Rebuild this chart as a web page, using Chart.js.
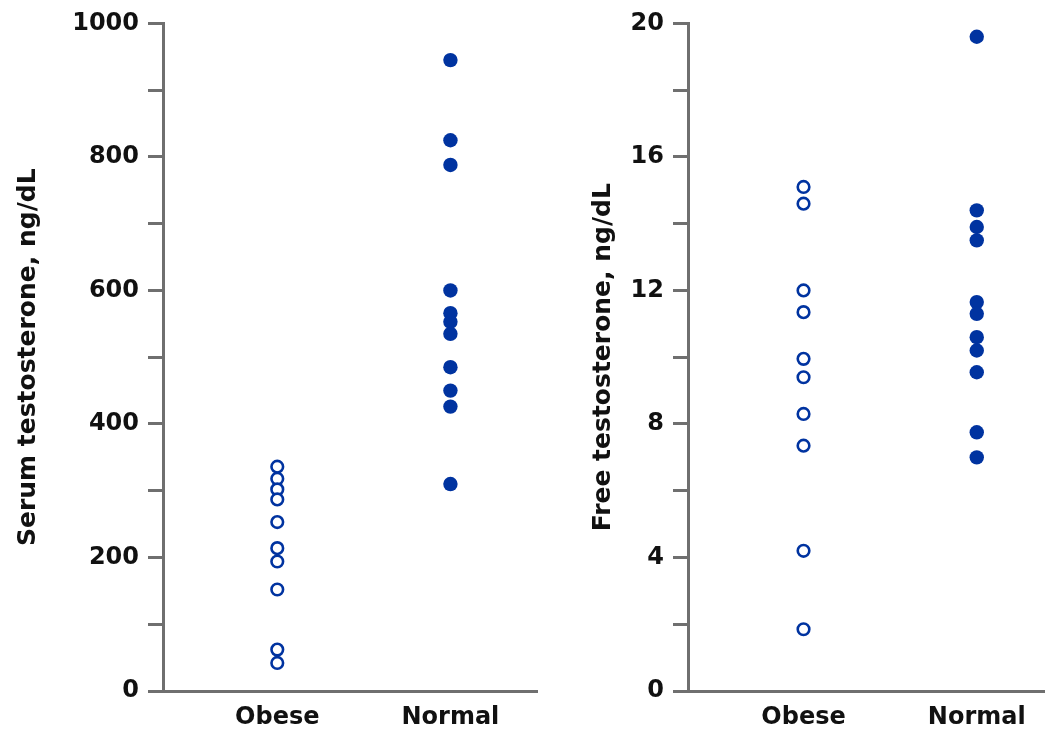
<!DOCTYPE html>
<html>
<head>
<meta charset="utf-8">
<script src="https://cdn.jsdelivr.net/npm/chart.js@4"></script>
<style>
    body { margin: 0; background: #fff; overflow: hidden; }
    #left { position: absolute; left: 0; top: 0; }
    #right { position: absolute; left: 545px; top: 0; }
</style>
</head>
<body>
<canvas id="left" width="545" height="729"></canvas>
<canvas id="right" width="500" height="729"></canvas>
<script>
// groups on the x axis
const categories = ['Obese', 'Normal'];

// serum testosterone, ng/dL
const serumObese = [336, 318, 302, 287, 253, 214, 194, 152, 62, 42];
const serumNormal = [945, 825, 788, 600, 566, 553, 535, 485, 450, 426, 310];
const serumTicks = [0, 200, 400, 600, 800, 1000];

// free testosterone, ng/dL
const freeObese = [15.1, 14.6, 12.0, 11.35, 9.95, 9.4, 8.3, 7.35, 4.2, 1.85];
const freeNormal = [19.6, 14.4, 13.9, 13.5, 11.65, 11.3, 10.6, 10.2, 9.55, 7.75, 7.0];
const freeTicks = [0, 4, 8, 12, 16, 20];

const blue = '#0033a0';
const axisGray = '#6f6f6f';
const fontFamily = '"DejaVu Sans", Verdana, sans-serif';

function points(values, group) {
    return values.map(v => ({ x: categories.indexOf(group) + 1, y: v }));
}

function makeChart(id, obese, normal, labelTicks, step, title, opts) {
    const ctx = document.getElementById(id).getContext('2d');
    return new Chart(ctx, {
        type: 'scatter',
        data: {
            datasets: [
                {
                    label: 'Obese',
                    data: points(obese, 'Obese'),
                    pointRadius: 5.8,
                    pointBorderWidth: 2.6,
                    pointBackgroundColor: '#fff',
                    pointBorderColor: blue
                },
                {
                    label: 'Normal',
                    data: points(normal, 'Normal'),
                    pointRadius: 7.2,
                    pointBorderWidth: 0,
                    pointBackgroundColor: blue,
                    pointBorderColor: blue
                }
            ]
        },
        options: {
            responsive: false,
            animation: false,
            clip: false,
            layout: {
                autoPadding: false,
                padding: { top: 21, right: opts.padRight, bottom: 0, left: 0 }
            },
            plugins: { legend: { display: false }, tooltip: { enabled: false } },
            scales: {
                x: {
                    type: 'linear',
                    min: opts.xMin,
                    max: opts.xMax,
                    afterBuildTicks: s => { s.ticks = categories.map((c, i) => ({ value: i + 1 })); },
                    afterFit: s => {
                        s.height = 38;
                        s.paddingLeft = 0;
                        s.paddingRight = 0;
                    },
                    ticks: {
                        callback: v => categories[v - 1],
                        font: { family: fontFamily, size: 24, weight: 'bold' },
                        color: '#111',
                        padding: 12,
                        maxRotation: 0,
                        autoSkip: false
                    },
                    grid: { display: false, drawTicks: false },
                    border: { display: true, color: axisGray, width: 3 }
                },
                y: {
                    min: 0,
                    max: labelTicks[labelTicks.length - 1],
                    afterFit: s => { s.width = opts.yWidth; },
                    ticks: {
                        stepSize: step,
                        callback: v => labelTicks.includes(v) ? v : '',
                        font: { family: fontFamily, size: 24, weight: 'bold' },
                        color: '#111',
                        padding: 9
                    },
                    grid: {
                        drawOnChartArea: false,
                        drawTicks: true,
                        tickLength: 15,
                        color: axisGray,
                        lineWidth: 3
                    },
                    border: { display: true, color: axisGray, width: 3 },
                    title: {
                        display: true,
                        text: title,
                        color: '#111',
                        font: { family: fontFamily, size: 25, weight: 'bold' },
                        padding: { top: opts.titlePad, bottom: 0 }
                    }
                }
            }
        }
    });
}

makeChart('left', serumObese, serumNormal, serumTicks, 100, 'Serum testosterone, ng/dL',
    { xMin: 0.34, xMax: 2.5, yWidth: 163, titlePad: 13, padRight: 8 });
makeChart('right', freeObese, freeNormal, freeTicks, 2, 'Free testosterone, ng/dL',
    { xMin: 0.333, xMax: 2.394, yWidth: 143, titlePad: 43, padRight: 0 });
</script>
</body>
</html>
